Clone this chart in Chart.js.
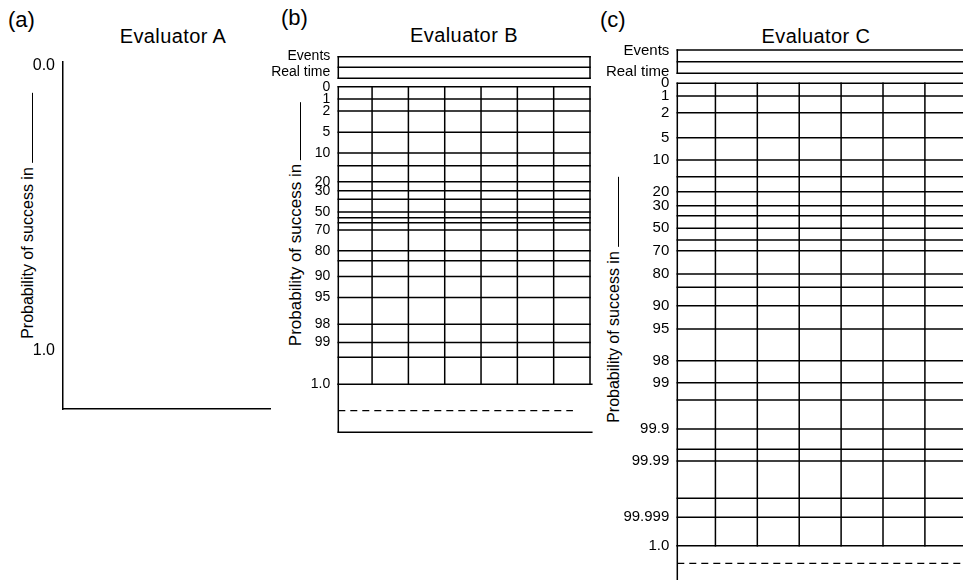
<!DOCTYPE html>
<html>
<head>
<meta charset="utf-8">
<script src="https://cdn.jsdelivr.net/npm/chart.js@4.4.1/dist/chart.umd.min.js"></script>
<style>
  html, body { margin: 0; padding: 0; background: #fff; }
  body { position: relative; width: 963px; height: 580px; overflow: hidden;
         font-family: 'Liberation Sans', Arial, Helvetica, sans-serif; color: #000; }
  canvas { position: absolute; top: 0; }
  .letter { position: absolute; font-size: 22px; line-height: 1; white-space: nowrap; }
  .title { position: absolute; font-size: 20px; line-height: 1; letter-spacing: 0.4px;
           white-space: nowrap; transform: translateX(-50%); }
  .ytitle { position: absolute; font-size: 16px; white-space: nowrap;
            transform: translate(-50%, -50%) rotate(-90deg); }
  .blank { display: inline-block; height: 0; border-top: 1.3px solid #000;
           margin-left: 4px; vertical-align: baseline; }
</style>
</head>
<body>
<div class="letter" style="left:8px;top:9px">(a)</div>
<div class="letter" style="left:281px;top:7px">(b)</div>
<div class="letter" style="left:600px;top:9px">(c)</div>

<div class="title" style="left:173px;top:26px">Evaluator A</div>
<div class="title" style="left:464px;top:25px">Evaluator B</div>
<div class="title" style="left:816px;top:26px">Evaluator C</div>

<div class="ytitle" style="left:27.5px;top:216px">Probability of success in<span class="blank" style="width:70px"></span></div>
<div class="ytitle" style="left:296px;top:224px;font-size:17px">Probability of success in<span class="blank" style="width:58px"></span></div>
<div class="ytitle" style="left:614px;top:300px">Probability of success in<span class="blank" style="width:70px"></span></div>

<canvas id="panelA" width="300" height="430" style="left:0px"></canvas>
<canvas id="panelB" width="332" height="450" style="left:268px"></canvas>
<canvas id="panelC" width="380" height="580" style="left:590px"></canvas>

<script>
// ---- Panel A: bare probability axis, 0.0 at the top, 1.0 near the bottom ----
const axisTicksA  = [0, 1];
const axisLabelsA = ['0.0', '1.0'];
const axisRangeA  = [-0.014, 1.2035];

// ---- Panel B: probability grid (0 = top of grid, 1 = the "1.0" line) ----
const labelsB   = ['Events', 'Real time', '0', '1', '2', '5', '10', '20', '30', '50', '70', '80', '90', '95', '98', '99', '1.0'];
const labelPosB = [-0.103, -0.048, 0, 0.0413, 0.0817, 0.1532, 0.2228, 0.3192, 0.3495, 0.4210, 0.4815, 0.5511, 0.6378, 0.7083, 0.7984, 0.8595, 1];
const gridRowsB = [0, 0.0413, 0.0817, 0.1532, 0.2228, 0.2655, 0.3192, 0.3495, 0.3784, 0.4210, 0.4402, 0.4570,
                   0.4815, 0.5511, 0.5847, 0.6378, 0.7083, 0.7984, 0.8595, 0.9089, 1];
const bandRowsB = [-0.1008, -0.0652, -0.0282];   // Events / Real time strip
const colEdgesB = [0.07, 1, 2, 3, 4, 5, 6, 7];
const dashRowB  = 1.0887;
const dashEndB  = 6.53;
const baseRowB  = 1.1613;

// ---- Panel C: extended probability grid down to 99.999 ----
const labelsC   = ['Events', 'Real time', '0', '1', '2', '5', '10', '20', '30', '50', '70', '80', '90', '95', '98', '99',
                   '99.9', '99.99', '99.999', '1.0'];
const labelPosC = [-0.0698, -0.0251, 0, 0.0275, 0.0636, 0.1176, 0.1659, 0.2344, 0.2647, 0.3136, 0.3620, 0.4124,
                   0.4810, 0.5314, 0.5999, 0.6475, 0.7476, 0.8168, 0.9386, 1];
const gridRowsC = [0, 0.0275, 0.0636, 0.1176, 0.1659, 0.2020, 0.2344, 0.2647, 0.2863, 0.3136, 0.3389, 0.3620,
                   0.4124, 0.4412, 0.4810, 0.5314, 0.5999, 0.6475, 0.6849, 0.7476, 0.7915, 0.8168, 0.8975, 0.9386, 1];
const bandRowsC = [-0.0720, -0.0467, -0.0216];
const colEdgesC = [0.09, 1, 2, 3, 4, 5, 6, 7];
const dashRowC  = 1.0381;
const baseRowC  = 1.0742;

const FONT = "'Liberation Sans', Arial, Helvetica, sans-serif";
const INK = '#000';
const LINE_W = 1.5;

function seg(x0, y0, x1, y1, dash) {
  return {
    data: [{ x: x0, y: y0 }, { x: x1, y: y1 }],
    showLine: true, borderColor: INK, borderWidth: dash ? 1.3 : LINE_W, pointRadius: 0, fill: false, clip: false,
    borderDash: dash || [], borderCapStyle: dash ? 'butt' : 'square'
  };
}

// Builds the strip, the grid rows and columns, and the lines below the grid
function gridLines(rows, band, cols, extra) {
  const x0 = cols[0], x1 = cols[cols.length - 1];
  const sets = [];
  band.forEach(y => sets.push(seg(x0, y, x1, y)));
  sets.push(seg(x0, band[0], x0, band[band.length - 1]));
  sets.push(seg(x1, band[0], x1, band[band.length - 1]));
  rows.forEach(y => sets.push(seg(x0, y, y === 1 ? x1 + extra.overhang : x1, y)));
  cols.forEach(x => sets.push(seg(x, 0, x, 1)));
  sets.push(seg(x0, 1, x0, extra.base));
  if (extra.baseLine) sets.push(seg(x0, extra.base, x1 + extra.overhang, extra.base));
  sets.push(seg(x0, extra.dash, extra.dashEnd, extra.dash, [7, 5]));
  return sets;
}

function probAxis(range, pos, labels, width, size) {
  return {
    type: 'linear', reverse: true, min: range[0], max: range[1],
    grid: { display: false, drawTicks: false }, border: { display: false },
    afterBuildTicks: s => { s.ticks = pos.map(v => ({ value: v })); },
    afterFit: s => { s.width = width; s.paddingTop = 0; s.paddingBottom = 0; },
    ticks: { autoSkip: false, padding: 8, color: INK, font: { family: FONT, size },
             callback: (v, i) => labels[i] }
  };
}

const common = {
  responsive: false, animation: false, events: [], devicePixelRatio: 1,
  plugins: { legend: { display: false }, tooltip: { enabled: false }, title: { display: false } }
};

// Panel A
new Chart(document.getElementById('panelA'), {
  type: 'scatter',
  data: { datasets: [] },
  options: Object.assign({}, common, {
    layout: { padding: { top: 62, left: 0, right: 30, bottom: 21 } },
    scales: {
      x: { type: 'linear', min: 0, max: 1,
           grid: { display: false, drawTicks: false }, ticks: { display: false },
           border: { display: true, color: INK, width: LINE_W },
           afterFit: s => { s.height = 0; s.paddingLeft = 0; s.paddingRight = 0; } },
      y: Object.assign(probAxis(axisRangeA, axisTicksA, axisLabelsA, 63, 16),
           { border: { display: true, color: INK, width: LINE_W } })
    }
  })
});

// Panel B
new Chart(document.getElementById('panelB'), {
  type: 'scatter',
  data: { datasets: gridLines(gridRowsB, bandRowsB, colEdgesB,
          { overhang: 0.05, base: baseRowB, baseLine: true, dash: dashRowB, dashEnd: dashEndB }) },
  options: Object.assign({}, common, {
    layout: { padding: { top: 56.7, left: 0, right: 10, bottom: 17.7 } },
    scales: {
      x: { type: 'linear', display: false, min: colEdgesB[0], max: colEdgesB[colEdgesB.length - 1] },
      y: probAxis([bandRowsB[0], baseRowB], labelPosB, labelsB, 70.3, 14)
    }
  })
});

// Panel C
new Chart(document.getElementById('panelC'), {
  type: 'scatter',
  data: { datasets: gridLines(gridRowsC, bandRowsC, colEdgesC,
          { overhang: 0, base: baseRowC, baseLine: false, dash: dashRowC, dashEnd: colEdgesC[colEdgesC.length - 1] }) },
  options: Object.assign({}, common, {
    layout: { padding: { top: 50, left: 0, right: 3.2, bottom: 0 } },
    scales: {
      x: { type: 'linear', display: false, min: colEdgesC[0], max: colEdgesC[colEdgesC.length - 1] },
      y: probAxis([bandRowsC[0], baseRowC], labelPosC, labelsC, 87.3, 15)
    }
  })
});
</script>
</body>
</html>
